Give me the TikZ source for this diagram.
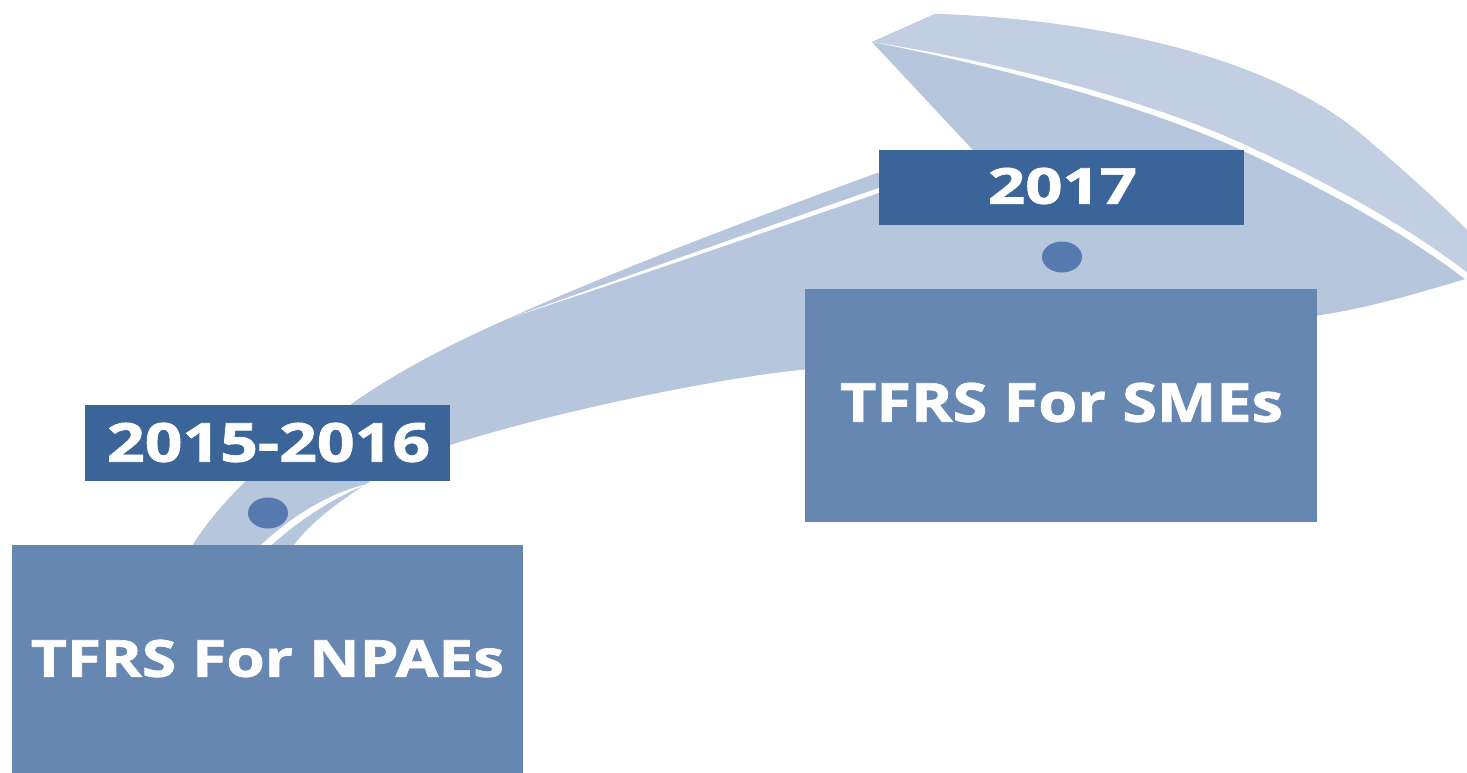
\documentclass[tikz,border=0pt]{standalone}
\usepackage{fontspec}
\setmainfont{Open Sans}[BoldFeatures={FakeBold=1.3}]
\usepackage{graphicx}
\usetikzlibrary{shapes.geometric}
\definecolor{swoosh}{RGB}{181,198,221}
\definecolor{swooshband}{RGB}{194,207,226}
\definecolor{boxfill}{RGB}{102,135,177}
\definecolor{labfill}{RGB}{59,101,153}
\definecolor{dotfill}{RGB}{86,122,175}
\tikzset{
  bigbox/.style={fill=boxfill, draw=none, minimum width=511pt, minimum height=233pt, inner sep=0pt},
  yearbox/.style={fill=labfill, draw=none, minimum width=365pt, minimum height=76pt, inner sep=0pt},
  yeardot/.style={fill=dotfill, draw=none, ellipse, minimum width=40pt, minimum height=31pt, inner sep=0pt},
  txt/.style={text=white, inner sep=0pt, font=\bfseries}
}
\begin{document}
\begin{tikzpicture}[x=1pt,y=-1pt]
\useasboundingbox[fill=white] (0,0) rectangle (1467,773);
\begin{scope}
\clip (0,0) rectangle (1467,773);
% swoosh body and head
\fill[swoosh] (186,556) .. controls (215,505) and (270,450) .. (350,405)
 .. controls (416,358) and (492,325) .. (567,293)
 .. controls (669,250) and (773,211) .. (877,173)
 .. controls (920,162) and (955,160) .. (985,163)
 -- (872,42) -- (935,14)
 .. controls (1060,18) and (1255,45) .. (1362,135)
 .. controls (1420,184) and (1460,222) .. (1505,268)
 .. controls (1440,285) and (1380,308) .. (1300,318)
 .. controls (1050,345) and (900,358) .. (800,370)
 .. controls (720,378) and (560,410) .. (450,445)
 .. controls (410,458) and (380,474) .. (360,488)
 .. controls (330,508) and (305,528) .. (292,548)
 -- (296,560) -- cycle;
% lighter upper band of the head
\fill[swooshband] (872,42) -- (935,14)
 .. controls (1060,18) and (1255,45) .. (1362,135)
 .. controls (1420,184) and (1460,222) .. (1505,268)
 -- (1480,283)
 .. controls (1425,238) and (1350,193) .. (1252,148)
 .. controls (1150,100) and (1000,62) .. (872,42) -- cycle;
% white stripe in the head
\fill[white] (872,42) .. controls (1000,62) and (1150,100) .. (1252,148)
 .. controls (1350,193) and (1425,238) .. (1480,283)
 -- (1474,286) .. controls (1420,243) and (1345,199) .. (1248,153)
 .. controls (1148,106) and (1000,67) .. (872,42) -- cycle;
% white line along the upper edge of the body
\fill[white] (510,318) .. controls (650,268) and (800,215) .. (960,160)
 -- (960,165) .. controls (800,220) and (650,272) .. (510,318) -- cycle;
% white line in the tail
\fill[white] (256,550) .. controls (288,518) and (330,492) .. (368,484)
 .. controls (332,498) and (296,522) .. (266,550) -- cycle;
\end{scope}
% boxes
\node[bigbox] (box1) at (267.5,661.5) {};
\node[bigbox, minimum width=512pt] (box2) at (1061,405.5) {};
\node[yearbox] (lab1) at (267.5,443) {};
\node[yearbox, minimum height=75pt] (lab2) at (1061.5,187.5) {};
\node[yeardot] (dot1) at (268,513) {};
\node[yeardot] (dot2) at (1062,257) {};
% texts
\node[txt] (t1) at (268.5,442.5) {\resizebox{323pt}{39pt}{2015-2016}};
\node[txt] (t2) at (1062.5,186) {\resizebox{149pt}{36pt}{2017}};
\node[txt] (t3) at (267.5,658.5) {\resizebox{473pt}{37pt}{TFRS For NPAEs}};
\node[txt] (t4) at (1061.5,402.5) {\resizebox{443pt}{39pt}{TFRS For SMEs}};
\end{tikzpicture}
\end{document}
